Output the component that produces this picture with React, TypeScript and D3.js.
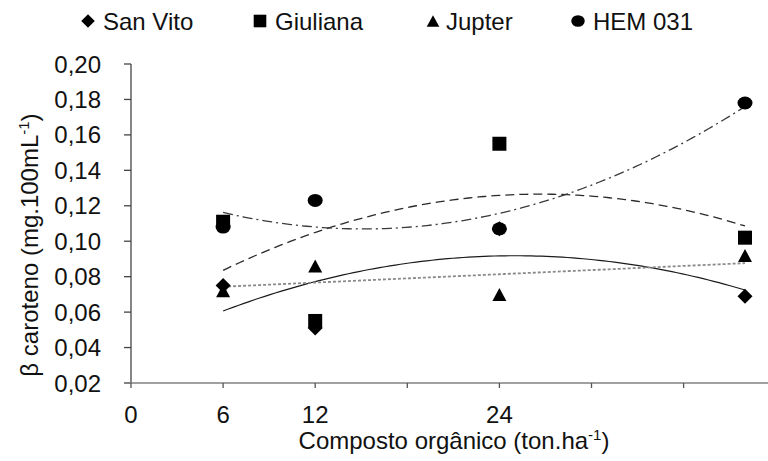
import React from "react";
import * as d3 from "d3";

// Organic compost doses (ton/ha) and β-carotene content per cultivar
const doses = [6, 12, 24, 40];
const sanVito = [0.075, 0.051, 0.107, 0.069];
const giuliana = [0.111, 0.055, 0.155, 0.102];
const jupter = [0.072, 0.086, 0.07, 0.092];
const hem031 = [0.108, 0.123, 0.107, 0.178];

const seriesNames = ["San Vito", "Giuliana", "Jupter", "HEM 031"];
const yTicks = [0.02, 0.04, 0.06, 0.08, 0.1, 0.12, 0.14, 0.16, 0.18, 0.2];
const xTicks = [0, 6, 12, 18, 24, 30, 36, 42];
const xTickLabels = ["0", "6", "12", "", "24", "", "", ""];

const W = 768;
const H = 461;
const FONT = "'Liberation Sans', Arial, Helvetica, sans-serif";

const x = d3.scaleLinear().domain([0, 42]).range([131, 131 + 42 * 15.35]);
const y = d3.scaleLinear().domain([0.02, 0.2]).range([383, 64]);

const ptBr = d3.formatLocale({ decimal: ",", thousands: ".", grouping: [3], currency: ["R$", ""] });
const fmt = ptBr.format(".2f");

// Least-squares polynomial fit (Excel-style trendline)
function polyFit(xs: number[], ys: number[], degree: number): number[] {
  const n = degree + 1;
  const A: number[][] = [];
  for (let i = 0; i < n; i++) {
    const row: number[] = [];
    for (let j = 0; j < n; j++) row.push(d3.sum(xs, (v) => Math.pow(v, i + j)));
    row.push(d3.sum(xs, (v, k) => Math.pow(v, i) * ys[k]));
    A.push(row);
  }
  for (let c = 0; c < n; c++) {
    let p = c;
    for (let r = c + 1; r < n; r++) if (Math.abs(A[r][c]) > Math.abs(A[p][c])) p = r;
    [A[c], A[p]] = [A[p], A[c]];
    for (let r = 0; r < n; r++) {
      if (r === c) continue;
      const f = A[r][c] / A[c][c];
      for (let k = c; k <= n; k++) A[r][k] -= f * A[c][k];
    }
  }
  return A.map((row, i) => row[n] / row[i]);
}

function trendPath(ys: number[], degree: number): string {
  const coef = polyFit(doses, ys, degree);
  const lo = d3.min(doses) as number;
  const hi = d3.max(doses) as number;
  const pts: [number, number][] = d3.range(0, 101).map((i) => {
    const xv = lo + ((hi - lo) * i) / 100;
    const yv = coef.reduce((s, c, k) => s + c * Math.pow(xv, k), 0);
    return [xv, yv];
  });
  return (
    d3
      .line<[number, number]>()
      .x((d) => x(d[0]))
      .y((d) => y(d[1]))(pts) || ""
  );
}

type Shape = "diamond" | "square" | "triangle" | "circle";

function Marker({ shape, cx, cy, s = 1 }: { shape: Shape; cx: number; cy: number; s?: number }) {
  if (shape === "diamond") {
    const r = 7.5 * s;
    return <path d={`M${cx},${cy - r}L${cx + r},${cy}L${cx},${cy + r}L${cx - r},${cy}Z`} fill="#000" />;
  }
  if (shape === "square") {
    const h = 7 * s;
    return <rect x={cx - h} y={cy - h} width={2 * h} height={2 * h} fill="#000" />;
  }
  if (shape === "triangle") {
    const hw = 7 * s;
    const hh = 6.5 * s;
    return <path d={`M${cx},${cy - hh}L${cx + hw},${cy + hh}L${cx - hw},${cy + hh}Z`} fill="#000" />;
  }
  return <ellipse cx={cx} cy={cy} rx={7.5 * s} ry={6.5 * s} fill="#000" />;
}

const series = [
  { name: seriesNames[0], values: sanVito, shape: "diamond" as Shape, degree: 2, stroke: "#1a1a1a", width: 1.2, dash: "none" },
  { name: seriesNames[1], values: giuliana, shape: "square" as Shape, degree: 2, stroke: "#2a2a2a", width: 1.3, dash: "9 5" },
  { name: seriesNames[2], values: jupter, shape: "triangle" as Shape, degree: 1, stroke: "#8a8a8a", width: 1.8, dash: "3 2" },
  { name: seriesNames[3], values: hem031, shape: "circle" as Shape, degree: 2, stroke: "#3a3a3a", width: 1.3, dash: "10 4 2 4" },
];

const legendItems = [
  { mx: 88, tx: 103 },
  { mx: 260, tx: 275 },
  { mx: 433, tx: 446 },
  { mx: 578, tx: 593 },
];

export default function App() {
  const x0 = x(0);
  const yBottom = y(0.02);
  return (
    <svg
      width={W}
      height={H}
      viewBox={`0 0 ${W} ${H}`}
      style={{ position: "absolute", left: 0, top: 0, background: "#fff" }}
      fontFamily={FONT}
    >
      <rect width={W} height={H} fill="#fff" />

      {/* Legend */}
      {series.map((s, i) => (
        <g key={s.name}>
          <Marker shape={s.shape} cx={legendItems[i].mx} cy={21} s={0.9} />
          <text x={legendItems[i].tx} y={30} fontSize={24} fill="#111">
            {s.name}
          </text>
        </g>
      ))}

      {/* Y axis */}
      <line x1={x0} x2={x0} y1={y(0.2)} y2={yBottom} stroke="#444" strokeWidth={1.3} />
      {yTicks.map((t) => (
        <g key={t}>
          <line x1={x0 - 7} x2={x0} y1={y(t)} y2={y(t)} stroke="#444" strokeWidth={1.3} />
          <text x={101} y={y(t) + 8.5} textAnchor="end" fontSize={24} fill="#111">
            {fmt(t)}
          </text>
        </g>
      ))}

      {/* X axis */}
      <line x1={x0 - 7} x2={W} y1={yBottom} y2={yBottom} stroke="#808080" strokeWidth={1.6} />
      {xTicks.map((t, i) => (
        <g key={t}>
          <line x1={x(t)} x2={x(t)} y1={yBottom} y2={yBottom + 5} stroke="#555" strokeWidth={1.3} />
          {xTickLabels[i] && (
            <text x={x(t)} y={423} textAnchor="middle" fontSize={24} fill="#111">
              {xTickLabels[i]}
            </text>
          )}
        </g>
      ))}

      {/* Axis titles */}
      <text x={454} y={449} textAnchor="middle" fontSize={24} fill="#111">
        Composto orgânico (ton.ha
        <tspan fontSize={15} dy={-9}>-1</tspan>
        <tspan dy={9}>)</tspan>
      </text>
      <text transform={`translate(38,245) rotate(-90)`} textAnchor="middle" fontSize={24} fill="#111">
        β caroteno (mg.100mL
        <tspan fontSize={15} dy={-9}>-1</tspan>
        <tspan dy={9}>)</tspan>
      </text>

      {/* Trend lines */}
      {series.map((s) => (
        <path
          key={`t-${s.name}`}
          d={trendPath(s.values, s.degree)}
          fill="none"
          stroke={s.stroke}
          strokeWidth={s.width}
          strokeDasharray={s.dash}
        />
      ))}

      {/* Observed values */}
      {series.map((s) => (
        <g key={`m-${s.name}`}>
          {s.values.map((v, i) => (
            <Marker key={i} shape={s.shape} cx={x(doses[i])} cy={y(v)} />
          ))}
        </g>
      ))}
    </svg>
  );
}
